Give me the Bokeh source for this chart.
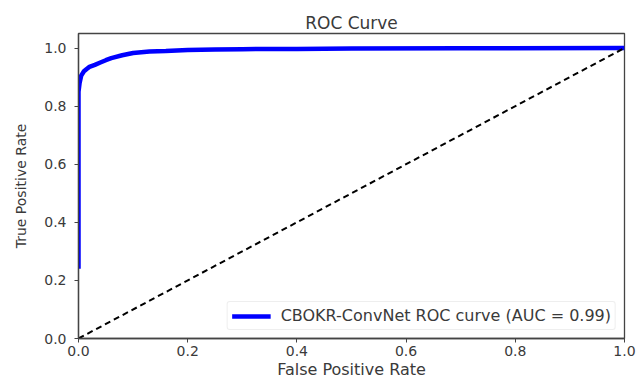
from bokeh.plotting import figure
from bokeh.models import Legend, LegendItem, FixedTicker, Range1d, NumeralTickFormatter
from bokeh.embed import file_html
from bokeh.resources import INLINE

# ROC curve points
fpr = [0.0, 0.0, 0.0, 0.002, 0.005, 0.01, 0.015, 0.02, 0.03, 0.04, 0.05, 0.06, 0.08, 0.1, 0.13, 0.16, 0.2, 0.25, 0.3, 0.4, 0.5, 0.7, 1.0]
tpr = [0.24, 0.6, 0.85, 0.88, 0.905, 0.92, 0.928, 0.935, 0.942, 0.95, 0.958, 0.965, 0.975, 0.983, 0.988, 0.99, 0.993, 0.995, 0.996, 0.997, 0.998, 0.999, 1.0]
chance_x = [0.0, 1.0]
chance_y = [0.0, 1.0]
ticks = [0.0, 0.2, 0.4, 0.6, 0.8, 1.0]
legend_label = "CBOKR-ConvNet ROC curve (AUC = 0.99)"

FONT = "DejaVu Sans"
TXT = "#3a3a3a"

p = figure(width=643, height=383, output_backend="svg", toolbar_location=None,
           x_range=Range1d(0, 1.0), y_range=Range1d(0, 1.05),
           min_border_left=78, min_border_right=19, min_border_top=33, min_border_bottom=45,
           title="ROC Curve")
p.title.align = "center"
p.title.text_font = FONT
p.title.text_font_size = "17px"
p.title.text_font_style = "normal"
p.title.text_color = TXT
p.title.standoff = 2

p.grid.visible = False
p.outline_line_color = "#444444"
p.outline_line_width = 1.3

for ax in (p.xaxis[0], p.yaxis[0]):
    ax.ticker = FixedTicker(ticks=ticks)
    ax.formatter = NumeralTickFormatter(format="0.0")
    ax.minor_tick_line_color = None
    ax.major_tick_out = 4
    ax.major_tick_in = 0
    ax.major_tick_line_color = "#444444"
    ax.axis_line_color = "#444444"
    ax.axis_line_width = 1.3
    ax.major_label_text_font = FONT
    ax.major_label_text_font_size = "14px"
    ax.major_label_text_color = TXT
    ax.axis_label_text_font = FONT
    ax.axis_label_text_font_style = "normal"
    ax.axis_label_text_color = TXT

p.xaxis.axis_label = "False Positive Rate"
p.yaxis.axis_label = "True Positive Rate"
p.xaxis.axis_label_text_font_size = "16px"
p.yaxis.axis_label_text_font_size = "14px"
p.xaxis.axis_label_standoff = 1
p.yaxis.axis_label_standoff = 12
p.xaxis.major_label_standoff = 3
p.yaxis.major_label_standoff = 8

r_roc = p.line(fpr, tpr, line_color="#0000ff", line_width=4.5)
p.line(chance_x, chance_y, line_color="black", line_width=2, line_dash="6 4")

legend = Legend(items=[LegendItem(label=legend_label, renderers=[r_roc])],
                location="bottom_right")
legend.label_text_font = FONT
legend.label_text_font_size = "16px"
legend.label_text_color = TXT
legend.glyph_width = 39
legend.glyph_height = 16
legend.border_line_color = "#dddddd"
legend.border_radius = 3
legend.padding = 4
legend.margin = 8
legend.spacing = 0
legend.label_standoff = 10
legend.label_height = 16
p.add_layout(legend)

open("out.html", "w").write(file_html(p, INLINE))
